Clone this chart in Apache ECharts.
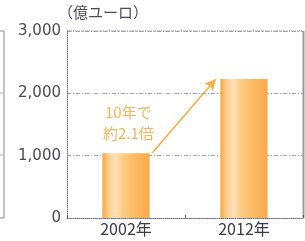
<!DOCTYPE html>
<html>
<head>
<meta charset="utf-8">
<script src="https://cdn.jsdelivr.net/npm/echarts@6/dist/echarts.min.js"></script>
<style>
  html, body { margin: 0; padding: 0; background: #fff; }
  #chart { width: 305px; height: 241px; }
</style>
</head>
<body>
<div id="chart"></div>
<script>
const categories = ['2002年', '2012年']
const values = [1040, 2230]
const yTicks = [0, 1000, 2000, 3000]
const unitLabel = '（億ユーロ）'
const noteText = '10年で\n約2.1倍'
// arrow from 2002 bar top-right to 2012 bar top-left (x on hidden value axis)
const arrowFrom = [0.22, 1040]
const arrowTo = [0.76, 2225]
const notePos = [0.02, 1530]

const chart = echarts.init(document.getElementById('chart'))

const barFill = new echarts.graphic.LinearGradient(0, 0, 1, 0, [
  { offset: 0, color: '#f8a640' },
  { offset: 0.14, color: '#fcd092' },
  { offset: 0.28, color: '#fde0b8' },
  { offset: 0.45, color: '#fccb82' },
  { offset: 0.7, color: '#fbba62' },
  { offset: 1, color: '#f9aa4c' },
])

chart.setOption({
  animation: false,
  backgroundColor: '#fff',
  grid: { left: 67, right: 2, top: 31, bottom: 23 },
  graphic: [
    // right edge of neighbouring panel
    { type: 'polyline', shape: { points: [[0, 31], [4, 31], [4, 218], [0, 218]] }, style: { stroke: '#888', fill: null, lineWidth: 1 } },
    { type: 'line', shape: { x1: 0, y1: 155, x2: 3, y2: 155 }, style: { stroke: '#aab', lineWidth: 1 } },
    { type: 'line', shape: { x1: 0, y1: 93, x2: 3, y2: 93 }, style: { stroke: '#aab', lineWidth: 1 } },
    // top and right border of plot
    { type: 'line', shape: { x1: 67, y1: 31, x2: 303, y2: 31 }, style: { stroke: '#888', lineWidth: 1, lineDash: [1, 1] } },
    { type: 'line', shape: { x1: 303.5, y1: 31, x2: 303.5, y2: 218 }, style: { stroke: '#999', lineWidth: 2 } },
    { type: 'text', left: 58, top: 5, style: { text: unitLabel, fill: '#4a4a5a', font: '15px "Noto Sans CJK JP"' } },
  ],
  xAxis: [
    {
      type: 'category',
      data: categories,
      axisLine: { lineStyle: { color: '#777', type: [1, 1] } },
      axisTick: { show: true, inside: true, length: 3, lineStyle: { color: '#555' } },
      axisLabel: { color: '#3a3a48', fontSize: 16, fontFamily: '"Noto Sans CJK JP"', margin: 3 },
    },
    { type: 'value', min: -0.5, max: 1.5, show: false },
  ],
  yAxis: {
    type: 'value',
    min: 0,
    max: 3000,
    interval: 1000,
    axisLine: { show: true, onZero: false, lineStyle: { color: '#777', type: [1, 1] } },
    axisTick: { show: false },
    axisLabel: {
      color: '#4a4a5a',
      fontSize: 15,
      fontFamily: 'DejaVu Sans',
      margin: 6,
      formatter: (v) => (yTicks.includes(v) ? v.toLocaleString('en-US') : ''),
    },
    splitLine: { lineStyle: { color: '#9aa3b8', type: [4, 2, 1, 2] } },
  },
  series: [
    {
      type: 'bar',
      data: values,
      barWidth: '40%',
      itemStyle: { color: barFill },
    },
    {
      type: 'scatter',
      xAxisIndex: 1,
      data: [notePos],
      symbolSize: 0,
      label: {
        show: true,
        position: 'inside',
        formatter: noteText,
        color: '#f6a02c',
        fontSize: 15,
        lineHeight: 21,
        fontFamily: '"Noto Sans CJK JP"',
      },
      markLine: {
        silent: true,
        symbol: ['none', 'arrow'],
        symbolSize: [9, 11],
        label: { show: false },
        lineStyle: { color: '#f9ad45', width: 1.6, type: 'solid' },
        data: [[{ coord: arrowFrom }, { coord: arrowTo }]],
      },
    },
  ],
})
</script>
</body>
</html>
